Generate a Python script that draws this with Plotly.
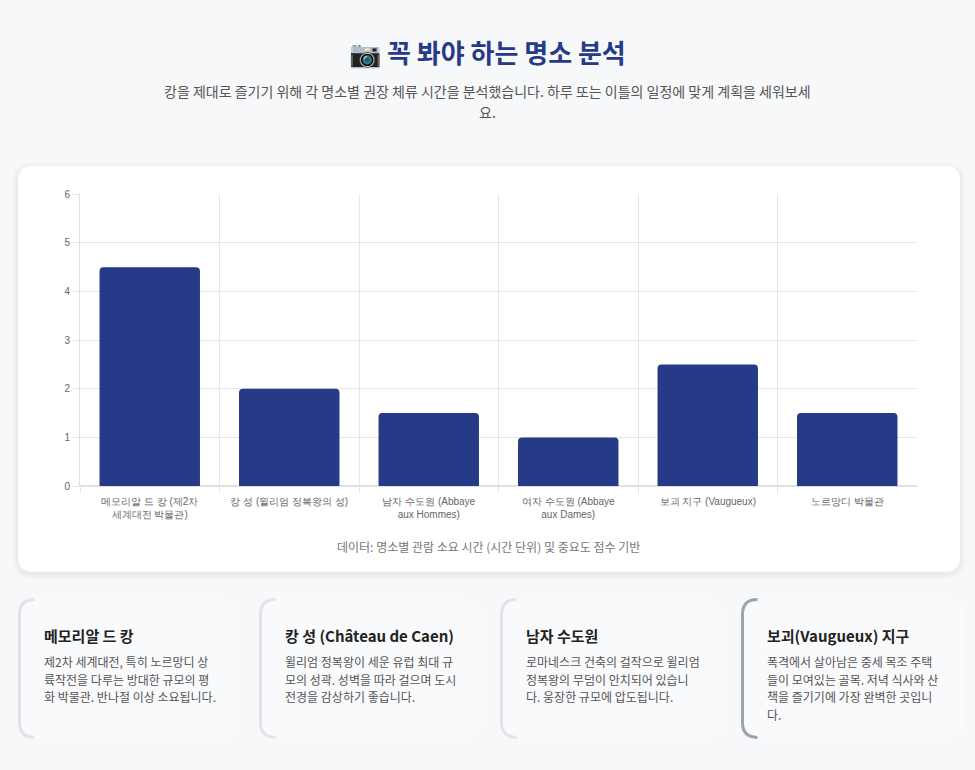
import plotly.graph_objects as go

W, H = 975, 770

# chart data
places = [
    "메모리알 드 캉 (제2차<br>세계대전 박물관)",
    "캉 성 (윌리엄 정복왕의 성)",
    "남자 수도원 (Abbaye<br>aux Hommes)",
    "여자 수도원 (Abbaye<br>aux Dames)",
    "보괴 지구 (Vaugueux)",
    "노르망디 박물관",
]
hours = [4.5, 2, 1.5, 1, 2.5, 1.5]
y_ticks = [0, 1, 2, 3, 4, 5, 6]

title = "📷 꼭 봐야 하는 명소 분석"
subtitle_lines = [
    "캉을 제대로 즐기기 위해 각 명소별 권장 체류 시간을 분석했습니다. 하루 또는 이틀의 일정에 맞게 계획을 세워보세",
    "요.",
]
caption = "데이터: 명소별 관람 소요 시간 (시간 단위) 및 중요도 점수 기반"

card_titles = ["메모리알 드 캉", "캉 성 (Château de Caen)", "남자 수도원", "보괴(Vaugueux) 지구"]
card_texts = [
    ["제2차 세계대전, 특히 노르망디 상", "륙작전을 다루는 방대한 규모의 평", "화 박물관. 반나절 이상 소요됩니다."],
    ["윌리엄 정복왕이 세운 유럽 최대 규", "모의 성곽. 성벽을 따라 걸으며 도시", "전경을 감상하기 좋습니다."],
    ["로마네스크 건축의 걸작으로 윌리엄", "정복왕의 무덤이 안치되어 있습니", "다. 웅장한 규모에 압도됩니다."],
    ["폭격에서 살아남은 중세 목조 주택", "들이 모여있는 골목. 저녁 식사와 산", "책을 즐기기에 가장 완벽한 곳입니", "다."],
]

KR = "Noto Sans CJK KR"
NAVY = "#273a87"


def px(x):
    return x / W


def py(y):
    return 1 - y / H


def rounded_rect(x0, y0, x1, y1, r):
    # pixel coords -> paper path
    pts = (f"M {px(x0+r)},{py(y0)} L {px(x1-r)},{py(y0)} "
           f"Q {px(x1)},{py(y0)} {px(x1)},{py(y0+r)} L {px(x1)},{py(y1-r)} "
           f"Q {px(x1)},{py(y1)} {px(x1-r)},{py(y1)} L {px(x0+r)},{py(y1)} "
           f"Q {px(x0)},{py(y1)} {px(x0)},{py(y1-r)} L {px(x0)},{py(y0+r)} "
           f"Q {px(x0)},{py(y0)} {px(x0+r)},{py(y0)} Z")
    return pts


def left_edge(x0, y0, y1, r):
    return (f"M {px(x0+r)},{py(y0)} Q {px(x0)},{py(y0)} {px(x0)},{py(y0+r)} "
            f"L {px(x0)},{py(y1-r)} Q {px(x0)},{py(y1)} {px(x0+r)},{py(y1)}")


def label(text, x, y, size, color, anchor="center", bold=False):
    if bold:
        text = f"<b>{text}</b>"
    return dict(text=text, x=px(x), y=py(y), xref="paper", yref="paper", showarrow=False,
                xanchor=anchor, yanchor="middle", font=dict(family=KR, size=size, color=color))


fig = go.Figure()
fig.add_trace(go.Bar(x=places, y=hours, marker=dict(color=NAVY, line=dict(width=0)),
                     hoverinfo="x+y", showlegend=False))

shapes = []
# shadow + white card
for i, a in enumerate([0.022, 0.016, 0.01]):
    d = 2 * (i + 1)
    shapes.append(dict(type="path", xref="paper", yref="paper",
                       path=rounded_rect(18 - d, 163 - d + 2, 960 + d, 575 + d + 2, 15 + d),
                       fillcolor=f"rgba(0,0,0,{a})", line=dict(width=0), layer="below"))
shapes.append(dict(type="path", xref="paper", yref="paper", path=rounded_rect(18, 163, 960, 575, 15),
                   fillcolor="white", line=dict(width=0), layer="below"))

annotations = [label(title, 487.5, 47, 26, NAVY, bold=True)]
for j, line in enumerate(subtitle_lines):
    annotations.append(label(line, 487.5, 87 + 22 * j, 14, "#555"))
annotations.append(label(caption, 489, 549, 12, "#777"))

# info cards
card_x = [18, 259, 500, 741]
edge_cols = ["#e2e4e8", "#e2e4e8", "#e2e4e8", "#9ba2b0"]
for i, cx in enumerate(card_x):
    shapes.append(dict(type="path", xref="paper", yref="paper",
                       path=rounded_rect(cx, 603, cx + 222, 743, 15),
                       fillcolor="rgba(255,255,255,0.25)", line=dict(width=0), layer="below"))
    shapes.append(dict(type="path", xref="paper", yref="paper", path=left_edge(cx + 1.5, 603, 743, 15),
                       line=dict(color=edge_cols[i], width=3), layer="below"))
    annotations.append(label(card_titles[i], cx + 24, 640, 15, "#222", anchor="left", bold=True))
    for j, line in enumerate(card_texts[i]):
        annotations.append(label(line, cx + 24, 666 + 18 * j, 12, "#555", anchor="left"))

fig.update_layout(
    width=W, height=H, autosize=False,
    margin=dict(l=0, r=0, t=0, b=0),
    paper_bgcolor="#f7f8fa", plot_bgcolor="white",
    bargap=0.28, barcornerradius=4,
    shapes=shapes, annotations=annotations,
    font=dict(family="Liberation Sans, Arial", size=10, color="#666"),
    xaxis=dict(domain=[px(80), px(917)], tickson="boundaries", showgrid=True, gridcolor="#e6e6e6",
               ticks="outside", ticklen=6, tickcolor="#e6e6e6", showline=True, linecolor="#e0e0e0",
               ticklabelstandoff=6,
               tickfont=dict(family="Liberation Sans, Arial", size=10, color="#666"), fixedrange=True),
    yaxis=dict(domain=[py(488), py(192)], range=[0, 6], tickvals=y_ticks, showgrid=True,
               gridcolor="#e6e6e6", ticks="outside", ticklen=7, tickcolor="#e6e6e6", zeroline=True,
               zerolinecolor="#e0e0e0", showline=True, linecolor="#e0e0e0",
               tickfont=dict(family="Liberation Sans, Arial", size=10, color="#666"), fixedrange=True),
)

fig.write_html("out.html", config={"displayModeBar": False},
               post_script="document.body.style.margin='0';document.body.style.background='#f7f8fa';")
